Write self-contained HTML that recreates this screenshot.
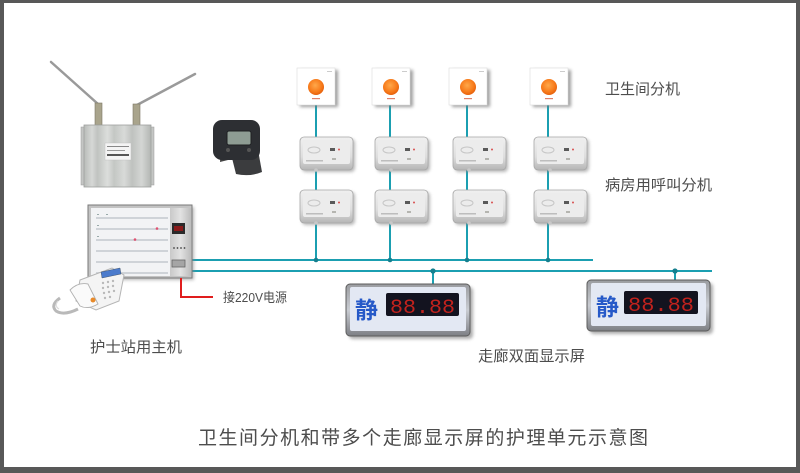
<!DOCTYPE html>
<html><head><meta charset="utf-8"><style>
html,body{margin:0;padding:0;background:#fff;}
svg{display:block}
text{font-family:"Liberation Sans","Noto Sans CJK SC",sans-serif;fill:#4d4d4d}
</style></head><body>
<svg width="800" height="473" viewBox="0 0 800 473" xmlns="http://www.w3.org/2000/svg">
<defs>
<linearGradient id="unit" x1="0" y1="0" x2="0" y2="1">
 <stop offset="0" stop-color="#f0f0f0"/><stop offset="0.6" stop-color="#dedede"/><stop offset="1" stop-color="#b5b5b5"/>
</linearGradient>
<linearGradient id="ridge" x1="0" y1="0" x2="1" y2="0">
 <stop offset="0" stop-color="#b9bcb9"/><stop offset="0.12" stop-color="#d6d8d6"/><stop offset="0.2" stop-color="#c0c3c0"/>
 <stop offset="0.35" stop-color="#dcdedc"/><stop offset="0.45" stop-color="#c4c7c4"/><stop offset="0.6" stop-color="#d8dad8"/>
 <stop offset="0.72" stop-color="#bfc2bf"/><stop offset="0.86" stop-color="#d4d6d4"/><stop offset="1" stop-color="#b3b6b3"/>
</linearGradient>
<linearGradient id="strip" x1="0" y1="0" x2="1" y2="0">
 <stop offset="0" stop-color="#c9c9c9"/><stop offset="0.5" stop-color="#e2e2e2"/><stop offset="1" stop-color="#bcbcbc"/>
</linearGradient>
<radialGradient id="orange" cx="0.45" cy="0.4" r="0.6">
 <stop offset="0" stop-color="#ffa84a"/><stop offset="0.7" stop-color="#f77a1a"/><stop offset="1" stop-color="#e6600c"/>
</radialGradient>
<linearGradient id="disp" x1="0" y1="0" x2="0" y2="1">
 <stop offset="0" stop-color="#9a9ca0"/><stop offset="0.5" stop-color="#c9ccd2"/><stop offset="1" stop-color="#7d7f84"/>
</linearGradient>
<filter id="blur" x="-20%" y="-20%" width="140%" height="140%"><feGaussianBlur stdDeviation="1.6"/></filter>
</defs>

<!-- frame -->
<rect x="0" y="0" width="800" height="473" fill="#585858"/>
<rect x="4" y="3" width="792" height="464" fill="#ffffff"/>

<!-- ===== Router ===== -->
<line x1="51" y1="62" x2="98" y2="104" stroke="#9a9a9a" stroke-width="2.5" stroke-linecap="round"/>
<line x1="195" y1="74" x2="137" y2="105" stroke="#9a9a9a" stroke-width="2.5" stroke-linecap="round"/>
<rect x="95" y="103" width="7" height="22" fill="#a9a48c" stroke="#7c7866" stroke-width="0.6"/>
<rect x="133" y="104" width="7" height="21" fill="#a9a48c" stroke="#7c7866" stroke-width="0.6"/>
<rect x="81" y="127" width="4" height="58" fill="#c4c6c4" stroke="#999" stroke-width="0.5"/>
<rect x="150" y="127" width="4" height="58" fill="#c4c6c4" stroke="#999" stroke-width="0.5"/>
<rect x="84" y="125" width="67" height="62" fill="url(#ridge)" stroke="#9ea09e" stroke-width="0.8"/>
<rect x="105" y="143" width="26" height="17" fill="#f4f4f4" stroke="#bbb" stroke-width="0.4"/>
<rect x="107" y="146" width="22" height="1" fill="#888"/>
<rect x="107" y="150" width="18" height="1" fill="#999"/>
<rect x="107" y="154" width="22" height="2" fill="#555"/>

<!-- ===== Watch ===== -->
<path d="M230 150 L258 150 L262 172 Q250 177 236 174 Z" fill="#3b3c3e"/>
<path d="M222 128 L228 160 L220 162 Z" fill="#444"/>
<rect x="213" y="120" width="47" height="40" rx="9" fill="#2d2f33"/>
<rect x="227" y="131" width="24" height="14" rx="2" fill="#8e9c93" stroke="#1e1f22" stroke-width="1"/>
<circle cx="228" cy="150" r="2" fill="#555"/>
<circle cx="249" cy="150" r="2" fill="#555"/>

<!-- ===== Connectors (cyan) ===== -->
<g stroke="#1b9fb1" stroke-width="2" fill="none">
 <line x1="191" y1="260" x2="593" y2="260"/>
 <line x1="191" y1="271" x2="712" y2="271"/>
 <line x1="316" y1="104" x2="316" y2="260"/>
 <line x1="390" y1="104" x2="390" y2="260"/>
 <line x1="467" y1="104" x2="467" y2="260"/>
 <line x1="548" y1="104" x2="548" y2="260"/>
 <line x1="433" y1="271" x2="433" y2="285"/>
 <line x1="675" y1="271" x2="675" y2="281"/>
</g>
<g fill="#157f8e">
 <circle cx="316" cy="260" r="2.3"/><circle cx="390" cy="260" r="2.3"/>
 <circle cx="467" cy="260" r="2.3"/><circle cx="548" cy="260" r="2.3"/>
 <circle cx="433" cy="271" r="2.6"/><circle cx="675" cy="271" r="2.6"/>
</g>

<!-- ===== Bathroom units ===== -->
<g id="bath">
 <rect x="300" y="70" width="38" height="37" fill="#777" filter="url(#blur)" opacity="0.7"/>
 <rect x="297" y="68" width="38" height="37" fill="#ffffff" stroke="#dcdcdc" stroke-width="0.6"/>
 <circle cx="316" cy="87" r="8" fill="url(#orange)"/>
 <rect x="312" y="98" width="8" height="1.2" fill="#e0806a"/>
 <rect x="327" y="71" width="5" height="1" fill="#ccc"/>
</g>
<use href="#bath" x="75" y="0"/>
<use href="#bath" x="152" y="0"/>
<use href="#bath" x="233" y="0"/>

<!-- ===== Room units ===== -->
<g id="room">
 <rect x="302" y="139" width="53" height="33" rx="4" fill="#888" filter="url(#blur)" opacity="0.6"/>
 <rect x="300" y="137" width="53" height="33" rx="4" fill="url(#unit)" stroke="#a8a8a8" stroke-width="0.8"/>
 <rect x="303" y="140" width="47" height="24" rx="2" fill="#ececec"/>
 <ellipse cx="314" cy="150" rx="6" ry="3" fill="none" stroke="#c6c6c6" stroke-width="1"/>
 <rect x="330" y="148" width="5" height="3" fill="#5a5a5a"/>
 <circle cx="339" cy="149.5" r="1" fill="#d85050"/>
 <rect x="332" y="158" width="4" height="2" fill="#b5b5b0"/>
 <rect x="306" y="160" width="17" height="1.5" fill="#bdbdbd"/>
 <circle cx="316" cy="170" r="1.8" fill="#c8c8c8"/>
</g>
<use href="#room" x="75" y="0"/>
<use href="#room" x="153" y="0"/>
<use href="#room" x="234" y="0"/>
<use href="#room" x="0" y="53"/>
<use href="#room" x="75" y="53"/>
<use href="#room" x="153" y="53"/>
<use href="#room" x="234" y="53"/>

<!-- ===== Nurse station host ===== -->
<rect x="90" y="207" width="104" height="73" fill="#888" filter="url(#blur)" opacity="0.6"/>
<rect x="88" y="205" width="104" height="73" fill="#c3c3c3" stroke="#7a7a7a" stroke-width="1"/>
<rect x="91" y="208" width="79" height="68" fill="#f2f3f5"/>
<g fill="#cfd3d8">
 <rect x="96" y="217" width="72" height="2"/>
 <rect x="96" y="228" width="72" height="2"/>
 <rect x="96" y="239" width="72" height="2"/>
 <rect x="96" y="250" width="72" height="2"/>
 <rect x="96" y="261" width="72" height="2"/>
 <rect x="96" y="272" width="72" height="2"/>
</g>
<g fill="#9aa">
 <rect x="97" y="214" width="2" height="1"/><rect x="106" y="214" width="2" height="1"/>
 <rect x="97" y="225" width="2" height="1"/><rect x="97" y="236" width="2" height="1"/>
</g>
<circle cx="157" cy="228.5" r="1.3" fill="#e05070"/>
<circle cx="135" cy="239.5" r="1.3" fill="#e05070"/>
<rect x="170" y="208" width="21" height="68" fill="url(#strip)"/>
<rect x="172" y="223" width="13" height="11" fill="#2a2a2a"/>
<rect x="174" y="226" width="9" height="5" fill="#8a1a1a"/>
<g fill="#444"><circle cx="174" cy="248" r="0.9"/><circle cx="177.5" cy="248" r="0.9"/><circle cx="181" cy="248" r="0.9"/><circle cx="184.5" cy="248" r="0.9"/></g>
<rect x="172" y="260" width="13" height="7" fill="#a5a5a5" stroke="#666" stroke-width="0.8"/>

<!-- red power line -->
<polyline points="181,278 181,297 213,297" fill="none" stroke="#e01d1d" stroke-width="2"/>

<!-- ===== Phone ===== -->
<path d="M60 298 Q50 305 56 311 Q64 316 78 309" fill="none" stroke="#b9b9b9" stroke-width="3"/>
<path d="M58 301 Q54 306 59 309" fill="none" stroke="#ddd" stroke-width="1.2"/>
<path d="M80 280 L112 268 L124 275 L119 301 L96 310 L76 301 Z" fill="#f4f4f4" stroke="#b5b5b5" stroke-width="1"/>
<path d="M70 290 Q78 282 88 284 L98 304 Q88 310 80 306 Z" fill="#fafafa" stroke="#b0b0b0" stroke-width="0.9"/>
<path d="M101 272 L120 268 L121 274 L102 278 Z" fill="#4b7bcc" stroke="#345" stroke-width="0.4"/>
<g fill="#b9b9b9">
 <circle cx="103" cy="283" r="1.2"/><circle cx="108" cy="282" r="1.2"/><circle cx="113" cy="281" r="1.2"/>
 <circle cx="103" cy="288" r="1.2"/><circle cx="108" cy="287" r="1.2"/><circle cx="113" cy="286" r="1.2"/>
 <circle cx="104" cy="293" r="1.2"/><circle cx="109" cy="292" r="1.2"/><circle cx="114" cy="291" r="1.2"/>
 <circle cx="105" cy="298" r="1.2"/><circle cx="110" cy="297" r="1.2"/>
</g>
<circle cx="93" cy="300" r="2.5" fill="#e88a2a"/>

<!-- ===== Corridor displays ===== -->
<rect x="349" y="287" width="124" height="52" rx="4" fill="#777" filter="url(#blur)" opacity="0.6"/>
<rect x="346" y="284" width="124" height="52" rx="4" fill="url(#disp)" stroke="#5c5c5c" stroke-width="1"/>
<rect x="350" y="287" width="116" height="44" rx="2" fill="#e3e8f3"/>
<rect x="386" y="293" width="73" height="23" rx="2" fill="#13131f"/>
<text x="355" y="318" font-size="23" font-weight="bold" style="fill:#2659c8">静</text>
<text x="390" y="313" font-size="20" textLength="65" lengthAdjust="spacingAndGlyphs" style="fill:#c2221d;font-family:'Liberation Mono',monospace">88.88</text>

<rect x="590" y="283" width="123" height="51" rx="4" fill="#777" filter="url(#blur)" opacity="0.6"/>
<rect x="587" y="280" width="123" height="51" rx="4" fill="url(#disp)" stroke="#5c5c5c" stroke-width="1"/>
<rect x="591" y="283" width="115" height="43" rx="2" fill="#e3e8f3"/>
<rect x="624" y="291" width="74" height="23" rx="2" fill="#13131f"/>
<text x="596" y="315" font-size="23" font-weight="bold" style="fill:#2659c8">静</text>
<text x="628" y="311" font-size="20" textLength="66" lengthAdjust="spacingAndGlyphs" style="fill:#c2221d;font-family:'Liberation Mono',monospace">88.88</text>

<!-- ===== Labels ===== -->
<text x="605" y="94" font-size="15" textLength="75" lengthAdjust="spacingAndGlyphs">卫生间分机</text>
<text x="605" y="190" font-size="15" textLength="107" lengthAdjust="spacingAndGlyphs">病房用呼叫分机</text>
<text x="478" y="361" font-size="15" textLength="107" lengthAdjust="spacingAndGlyphs">走廊双面显示屏</text>
<text x="90" y="352" font-size="15" textLength="92" lengthAdjust="spacingAndGlyphs">护士站用主机</text>
<text x="223" y="302" font-size="13" textLength="64" lengthAdjust="spacingAndGlyphs">接220V电源</text>
<text x="198" y="444" font-size="19" textLength="450" lengthAdjust="spacing">卫生间分机和带多个走廊显示屏的护理单元示意图</text>
</svg>
</body></html>
